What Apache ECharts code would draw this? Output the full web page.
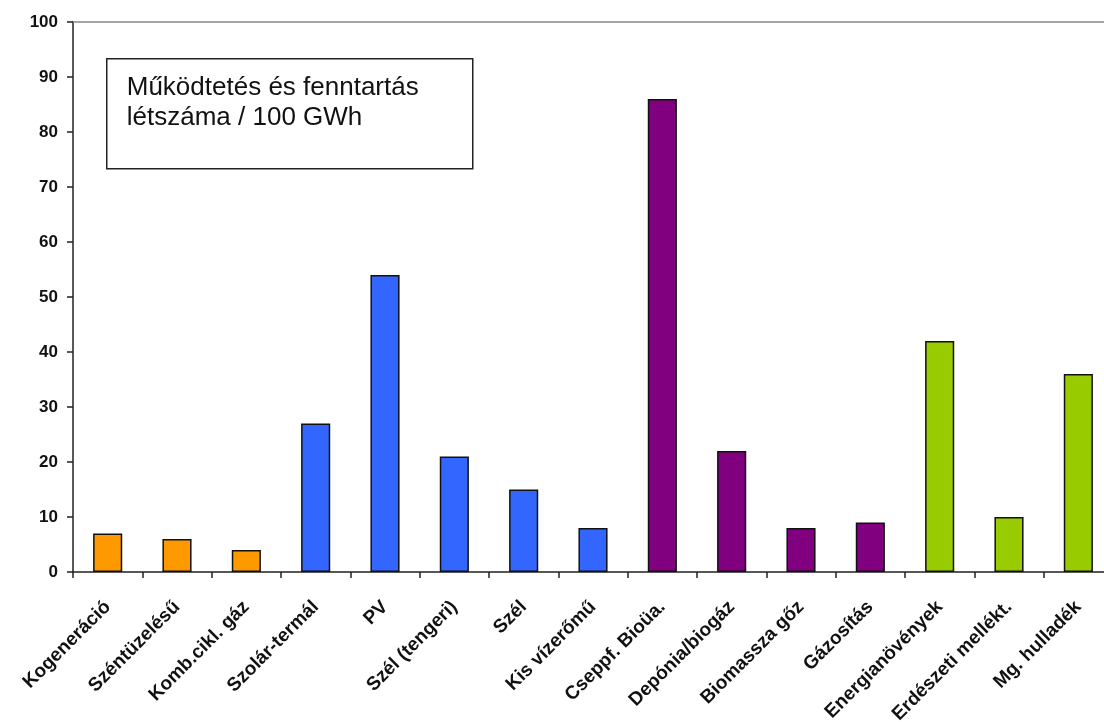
<!DOCTYPE html>
<html>
<head>
<meta charset="utf-8">
<script src="https://cdn.jsdelivr.net/npm/echarts@6/dist/echarts.min.js"></script>
<style>
  html, body { margin: 0; padding: 0; background: #fff; }
  #chart { width: 1104px; height: 722px; }
</style>
</head>
<body>
<div id="chart"></div>
<script>
    // adatok
    const categories = ['Kogeneráció', 'Széntüzelésű', 'Komb.cikl. gáz', 'Szolár-termál', 'PV',
        'Szél (tengeri)', 'Szél', 'Kis vízerőmű', 'Cseppf. Bioüa.', 'Depónia/biogáz',
        'Biomassza gőz', 'Gázosítás', 'Energianövények', 'Erdészeti mellékt.', 'Mg. hulladék'];
    const values = [7, 6, 4, 27, 54, 21, 15, 8, 86, 22, 8, 9, 42, 10, 36];
    // csoport: 0 fosszilis, 1 nap/szél/víz, 2 bio, 3 biomassza
    const groups = [0, 0, 0, 1, 1, 1, 1, 1, 2, 2, 2, 2, 3, 3, 3];
    const yTicks = [0, 10, 20, 30, 40, 50, 60, 70, 80, 90, 100];
    const boxTitle = 'Működtetés és fenntartás\nlétszáma / 100 GWh';

    const palette = ['#FF9900', '#3366FF', '#800080', '#99CC00'];
    const font = 'Liberation Sans';

    const chart = echarts.init(document.getElementById('chart'));

    chart.setOption({
        animation: false,
        grid: {
            left: 73,
            top: 22,
            right: -9,
            bottom: 150,
            containLabel: false,
            outerBoundsMode: 'none'
        },
        xAxis: [
            {
                type: 'category',
                data: categories,
                axisLine: {lineStyle: {color: '#222', width: 1.5}},
                axisTick: {show: true, length: 6, lineStyle: {color: '#222', width: 1.5}},
                axisLabel: {
                    interval: 0,
                    rotate: 45,
                    margin: 32,
                    color: '#111',
                    fontFamily: font,
                    fontWeight: 'bold',
                    fontSize: 19
                }
            },
            {
                type: 'category',
                position: 'top',
                data: categories,
                axisLine: {lineStyle: {color: '#888', width: 1.5}},
                axisTick: {show: false},
                axisLabel: {show: false}
            }
        ],
        yAxis: {
            type: 'value',
            min: yTicks[0],
            max: yTicks[yTicks.length - 1],
            interval: 10,
            splitLine: {show: false},
            axisLine: {show: true, lineStyle: {color: '#222', width: 1.5}},
            axisTick: {show: true, length: 6, lineStyle: {color: '#222', width: 1.5}},
            axisLabel: {
                margin: 15,
                color: '#111',
                fontFamily: font,
                fontWeight: 'bold',
                fontSize: 17
            }
        },
        series: [{
            type: 'bar',
            barWidth: '42%',
            data: values.map((v, i) => ({
                value: v,
                itemStyle: {color: palette[groups[i]]}
            })),
            itemStyle: {borderColor: '#111', borderWidth: 1.5}
        }],
        graphic: [{
            type: 'group',
            left: 106,
            top: 58,
            children: [
                {
                    type: 'rect',
                    shape: {x: 0, y: 0, width: 366, height: 110},
                    style: {fill: '#fff', stroke: '#222', lineWidth: 1.5}
                },
                {
                    type: 'text',
                    x: 20,
                    y: 14,
                    scaleX: 1.04,
                    style: {
                        text: boxTitle,
                        fontFamily: font,
                        fontSize: 25,
                        lineHeight: 30,
                        fill: '#111'
                    }
                }
            ]
        }]
    });
</script>
</body>
</html>
